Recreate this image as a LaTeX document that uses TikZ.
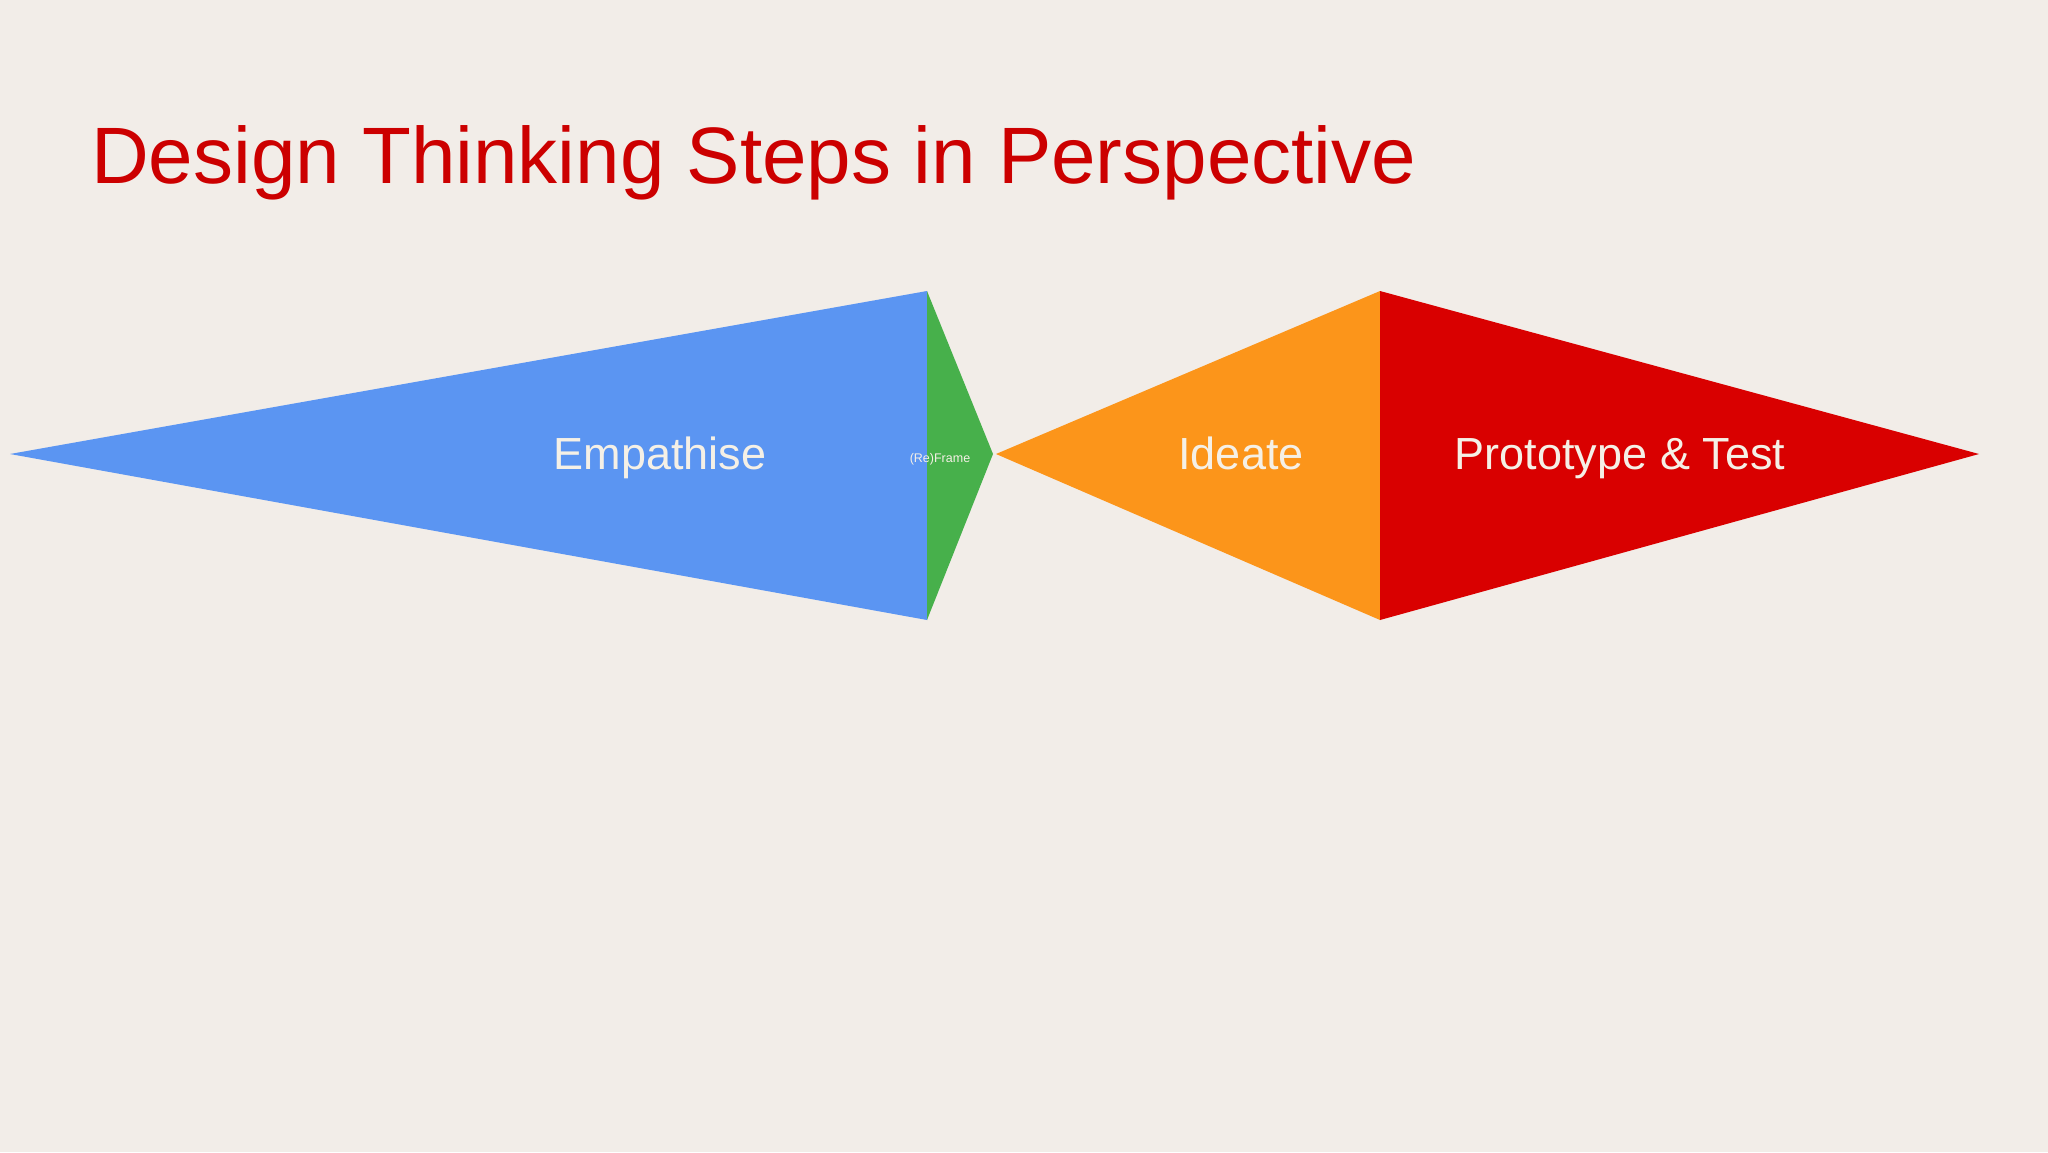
\documentclass[tikz,border=0pt]{standalone}
\usepackage{fontspec}
\setmainfont{Liberation Sans}
\definecolor{bg}{HTML}{F2EDE8}
\definecolor{titlered}{HTML}{CC0000}
\definecolor{eblue}{HTML}{5B95F2}
\definecolor{fgreen}{HTML}{47B04B}
\definecolor{iorange}{HTML}{FC951A}
\definecolor{pred}{HTML}{D90000}
\definecolor{lbl}{HTML}{F5F0E6}
\begin{document}
\begin{tikzpicture}[x=1pt,y=-1pt,
  lab/.style={text=lbl, font=\fontsize{45}{50}\selectfont, inner sep=0pt, anchor=base},
  piece/.style={line join=round}]
\fill[bg] (0,0) rectangle (2048,1152);
\useasboundingbox (0,0) rectangle (2048,1152);
% key points
\coordinate (btip) at (10,454);
\coordinate (btop) at (927,291);
\coordinate (bbot) at (927,620);
\coordinate (gtip) at (993,454);
\coordinate (otip) at (996,454);
\coordinate (otop) at (1380,291);
\coordinate (obot) at (1380,620);
\coordinate (rtip) at (1979,454);
% shapes
\fill[eblue,piece] (btip) -- (btop) -- (bbot) -- cycle;
\fill[fgreen,piece] (btop) -- (gtip) -- (bbot) -- cycle;
\fill[iorange,piece] (otip) -- (otop) -- (obot) -- cycle;
\fill[pred,piece] (otop) -- (rtip) -- (obot) -- cycle;
% title
\node[anchor=base west, text=titlered, font=\fontsize{80}{88}\selectfont, inner sep=0pt] (title) at (91,183) {Design Thinking Steps in Perspective};
% labels
\node[lab] (emp) at (660,469) {Empathise};
\node[lab] (ide) at (1241,469) {Ideate};
\node[lab] (pro) at (1620,469) {Prototype \& Test};
\node[text=lbl, font=\fontsize{12.5}{14}\selectfont, inner sep=0pt, anchor=base] (ref) at (940,462) {(Re)Frame};
\end{tikzpicture}
\end{document}
